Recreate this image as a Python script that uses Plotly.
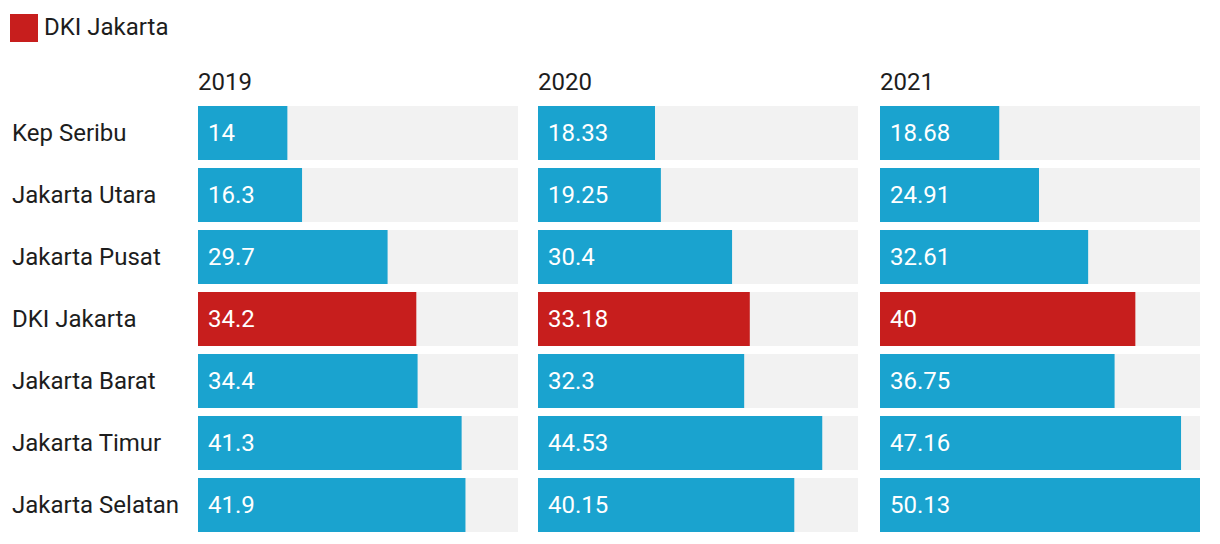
import plotly.graph_objects as go

regions = ["Kep Seribu", "Jakarta Utara", "Jakarta Pusat", "DKI Jakarta",
           "Jakarta Barat", "Jakarta Timur", "Jakarta Selatan"]
years = ["2019", "2020", "2021"]
v2019 = [14, 16.3, 29.7, 34.2, 34.4, 41.3, 41.9]
v2020 = [18.33, 19.25, 30.4, 33.18, 32.3, 44.53, 40.15]
v2021 = [18.68, 24.91, 32.61, 40, 36.75, 47.16, 50.13]
labels2019 = ["14", "16.3", "29.7", "34.2", "34.4", "41.3", "41.9"]
labels2020 = ["18.33", "19.25", "30.4", "33.18", "32.3", "44.53", "40.15"]
labels2021 = ["18.68", "24.91", "32.61", "40", "36.75", "47.16", "50.13"]
highlight = "DKI Jakarta"

W, H = 1220, 544
OFF = 8  # page body margin
BLUE = "#1aa3cf"
RED = "#c71e1d"
GREY = "#f2f2f2"
TXT = "#1d1d1d"
FONT = "Roboto"
FS = 24


def px(v):
    return (v - OFF) / W


def py(v):
    return 1 - (v - OFF) / H


series = [v2019, v2020, v2021]
labs = [labels2019, labels2020, labels2021]
vmax = max(max(s) for s in series)

px_domains = [(198, 518), (538, 858), (880, 1200)]
y_top, y_bot = 102, 536

fig = go.Figure()
layout = {}
for i, (vals, lab, yr) in enumerate(zip(series, labs, years)):
    xa = "x" if i == 0 else f"x{i+1}"
    ya = "y" if i == 0 else f"y{i+1}"
    colors = [RED if r == highlight else BLUE for r in regions]
    fig.add_trace(go.Bar(x=[vmax] * len(regions), y=regions, orientation="h",
                         marker=dict(color=GREY, line=dict(width=0)),
                         xaxis=xa, yaxis=ya, hoverinfo="skip", showlegend=False))
    fig.add_trace(go.Bar(x=vals, y=regions, orientation="h",
                         marker=dict(color=colors, line=dict(width=0)),
                         xaxis=xa, yaxis=ya, showlegend=False))
    for r, t in zip(regions, lab):
        fig.add_annotation(x=0, y=r, xref=xa, yref=ya, text=t, showarrow=False,
                           xanchor="left", yanchor="middle", xshift=8,
                           font=dict(family=FONT, size=FS, color="white"))
    d0, d1 = px_domains[i]
    key = "xaxis" if i == 0 else f"xaxis{i+1}"
    ykey = "yaxis" if i == 0 else f"yaxis{i+1}"
    layout[key] = dict(domain=[px(d0), px(d1)], range=[0, vmax], visible=False,
                       fixedrange=True, anchor=ya)
    layout[ykey] = dict(domain=[py(y_bot), py(y_top)], categoryorder="array",
                        categoryarray=regions, autorange="reversed", visible=False,
                        anchor=xa)
    fig.add_annotation(x=px(d0), y=py(82), xref="paper", yref="paper", text=yr,
                       showarrow=False, xanchor="left", yanchor="middle", xshift=-2,
                       font=dict(family=FONT, size=FS, color=TXT))

for r in regions:
    fig.add_annotation(x=px(12), y=r, xref="paper", yref="y", text=r, showarrow=False,
                       xanchor="left", yanchor="middle", xshift=-2,
                       font=dict(family=FONT, size=FS, color=TXT))

# legend
fig.add_shape(type="rect", xref="paper", yref="paper", x0=px(10), x1=px(38),
              y0=py(42), y1=py(14), fillcolor=RED, line=dict(width=0))
fig.add_annotation(x=px(44), y=py(27), xref="paper", yref="paper", text=highlight,
                   showarrow=False, xanchor="left", yanchor="middle", xshift=-2,
                   font=dict(family=FONT, size=FS, color=TXT))

fig.update_layout(width=W, height=H, margin=dict(l=0, r=0, t=0, b=0),
                  barmode="overlay", bargap=8 / 62, plot_bgcolor="white",
                  paper_bgcolor="white", font=dict(family=FONT, size=FS, color=TXT),
                  **layout)
fig.write_html("out.html")
